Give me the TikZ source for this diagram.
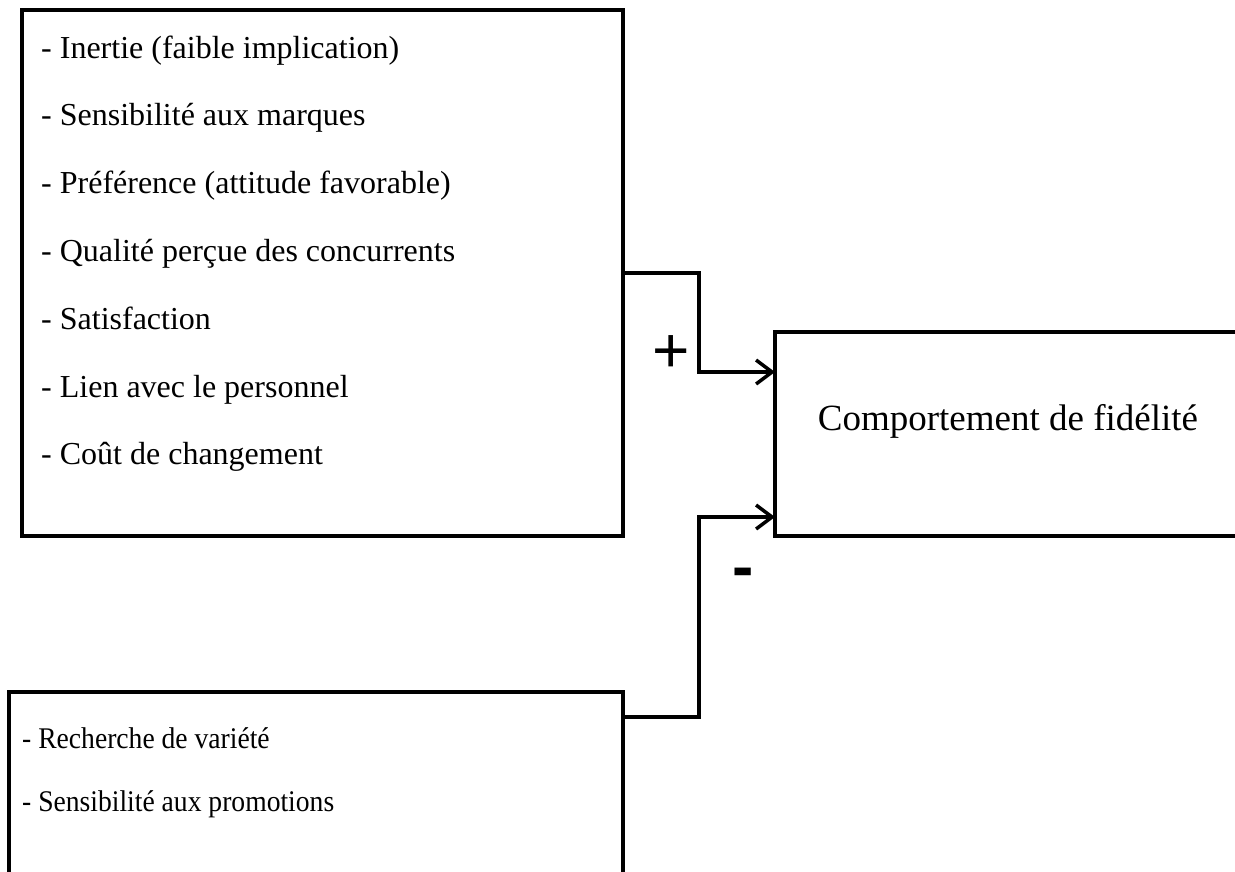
\documentclass[tikz,border=0pt]{standalone}
\usepackage{fontspec}
\setmainfont{Liberation Serif}
\newfontfamily\signfont{Liberation Sans}
\newfontfamily\narrowfont[FakeStretch=0.92]{Liberation Serif}
\usetikzlibrary{arrows.meta,calc}
\begin{document}
\begin{tikzpicture}[x=1pt,y=1pt,
  box/.style={draw, line width=4.5pt, rectangle, inner sep=0pt, outer sep=0pt, anchor=north west},
  item/.style={anchor=base west, inner sep=0pt, font=\fontsize{32}{38}\selectfont},
  smallitem/.style={anchor=base west, inner sep=0pt, font=\narrowfont\fontsize{30}{36}\selectfont},
  conn/.style={line width=3.5pt, -{Straight Barb[length=16pt,width=24pt]}},
  sign/.style={anchor=base, inner sep=0pt},
]
\useasboundingbox (0,0) rectangle (1235,-871);
\clip (0,0) rectangle (1235,-871);

% the three boxes
\node[box, minimum width=601pt, minimum height=526pt] (tb) at (22,-10) {};
\node[box, minimum width=614pt, minimum height=240pt] (bb) at (9,-692) {};
\node[box, minimum width=500pt, minimum height=204pt] (rb) at (775,-332) {};

% positive factors
\foreach \txt [count=\i] in {- Inertie (faible implication),
    - Sensibilité aux marques,
    - Préférence (attitude favorable),
    - Qualité perçue des concurrents,
    - Satisfaction,
    - Lien avec le personnel,
    - Coût de changement}
  \node[item] (t\i) at (41,{-58-67.8*(\i-1)}) {\txt};

% negative factors
\node[smallitem] (n1) at (22,-748) {- Recherche de variété};
\node[smallitem] (n2) at (22,-811) {- Sensibilité aux promotions};

% outcome
\node[anchor=base, inner sep=0pt, font=\fontsize{37}{44}\selectfont] (out) at (1008,-430) {Comportement de fidélité};

% links
\coordinate (j1) at ($(rb.north west)+(0,-40)$);
\coordinate (j2) at ($(rb.south west)+(0,19)$);
\coordinate (s2) at ($(bb.north east)+(0,-25)$);
\draw[conn] (tb.east) -- ++(76,0) |- (j1);
\draw[conn] (s2) -- ++(76,0) |- (j2);

% signs
\node[sign, font=\signfont\fontsize{64}{64}\selectfont] (plus) at (671,-372) {+};
\node[sign, font=\signfont\bfseries\fontsize{64}{64}\selectfont] (minus) at (743,-588) {-};
\end{tikzpicture}
\end{document}
